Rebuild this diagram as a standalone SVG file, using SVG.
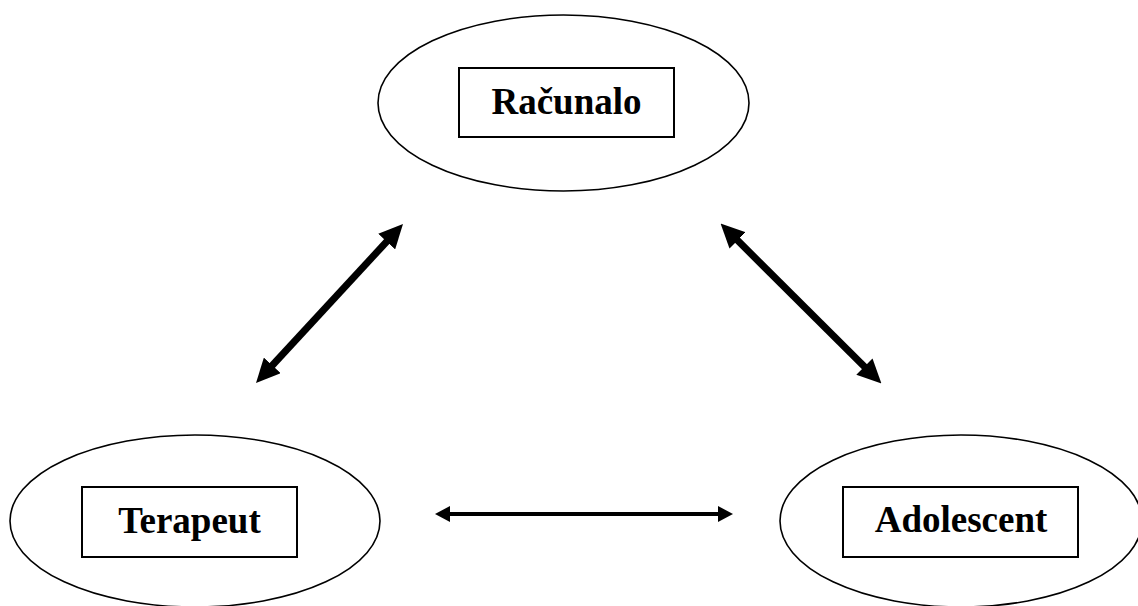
<svg xmlns="http://www.w3.org/2000/svg" width="1138" height="606" viewBox="0 0 1138 606">
  <style>
    .ell { fill: none; stroke: #000; stroke-width: 1.6; }
    .box { fill: #fff; stroke: #000; stroke-width: 2; }
    .lbl { font-family: "Liberation Serif", "Times New Roman", serif; font-weight: bold; font-size: 37px; fill: #000; text-anchor: middle; }
    .thick { stroke: #000; stroke-width: 7; fill: none; marker-start: url(#headBig); marker-end: url(#headBig); }
    .thin { stroke: #000; stroke-width: 4; fill: none; marker-start: url(#headSmall); marker-end: url(#headSmall); }
  </style>
  <defs>
    <marker id="headBig" markerUnits="userSpaceOnUse" viewBox="0 0 24 23" markerWidth="24" markerHeight="23" refX="9" refY="11.5" orient="auto-start-reverse">
      <path d="M0,0 L24,11.5 L0,23 z" fill="#000"/>
    </marker>
    <marker id="headSmall" markerUnits="userSpaceOnUse" viewBox="0 0 15 16" markerWidth="15" markerHeight="16" refX="5" refY="8" orient="auto-start-reverse">
      <path d="M0,0 L15,8 L0,16 z" fill="#000"/>
    </marker>
  </defs>
  <rect width="1138" height="606" fill="#fff"/>
  <g id="racunalo">
    <ellipse class="ell" cx="563.5" cy="103" rx="185.5" ry="88"/>
    <rect class="box" x="459" y="68" width="215" height="69"/>
    <text class="lbl" x="566.5" y="114">Računalo</text>
  </g>
  <g id="terapeut">
    <ellipse class="ell" cx="195" cy="521" rx="185" ry="86"/>
    <rect class="box" x="82" y="487" width="215" height="70"/>
    <text class="lbl" x="189.5" y="533">Terapeut</text>
  </g>
  <g id="adolescent">
    <ellipse class="ell" cx="961" cy="521" rx="181" ry="86"/>
    <rect class="box" x="843" y="487" width="235" height="70"/>
    <text class="lbl" x="961" y="532">Adolescent</text>
  </g>
  <g id="connectors">
    <line class="thick" x1="266.2" y1="372" x2="392.8" y2="235"/>
    <line class="thick" x1="731.2" y1="234.1" x2="870.8" y2="372.9"/>
    <line class="thin" x1="445" y1="514" x2="723" y2="514"/>
  </g>
</svg>
